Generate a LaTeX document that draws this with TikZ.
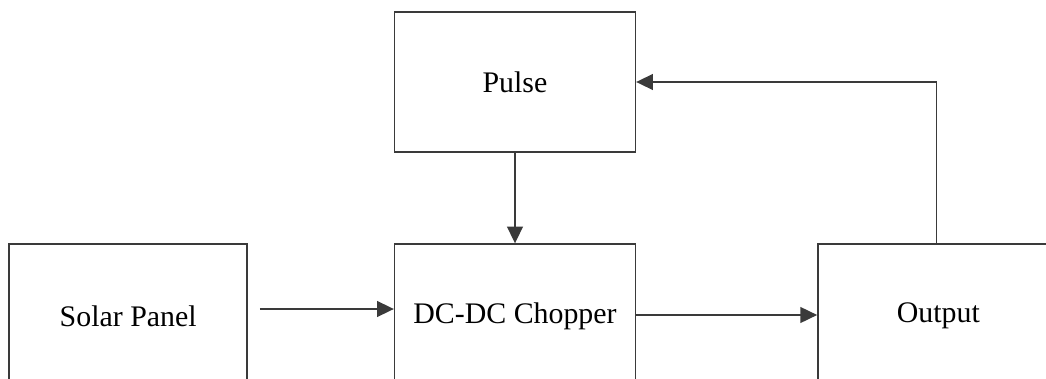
\documentclass[tikz,border=0pt]{standalone}
\usepackage{fontspec}
\setmainfont{Liberation Serif}
\usepackage{tikz}
\usetikzlibrary{arrows.meta,positioning}
\definecolor{edgegray}{HTML}{3A3A3A}
\tikzset{
  block/.style={draw=edgegray, line width=0.8pt, rectangle,
    minimum width=4.82cm, minimum height=2.8cm, inner sep=0pt,
    font=\fontsize{17}{20}\selectfont},
  lowblock/.style={block, minimum height=2.88cm},
  flow/.style={draw=edgegray, line width=0.8pt,
    -{Triangle[length=9.5pt,width=9pt]}}
}

\begin{document}
\begin{tikzpicture}[x=0.02cm, y=-0.02cm, line join=miter]
  % page is the visible part of the sheet, the lower boxes run off it
  \clip (0,0) rectangle (1046,379);

  \node[block] (pulse)   at (515,82)  {Pulse};
  \node[lowblock] (chopper) at (515,316) {DC-DC Chopper};
  \node[lowblock, minimum width=4.76cm, left=2.92cm of chopper] (solar) {Solar Panel};
  \node[lowblock, right=3.62cm of chopper] (output) {Output};

  % feedback line leaves the output block a little left of its middle
  \coordinate (fbfoot)   at ([shift={(-2,0)}]output.north);
  \coordinate (fbcorner) at (fbfoot |- pulse.east);

  \draw[flow] ([shift={(12,-7)}]solar.east) -- ([shift={(0,-7)}]chopper.west);
  \draw[flow] (pulse.south) -- (chopper.north);
  \draw[flow] ([shift={(0,-1)}]chopper.east) -- ([shift={(0,-1)}]output.west);
  \draw[flow] (fbfoot) -- (fbcorner) -- (pulse.east);
\end{tikzpicture}
\end{document}
